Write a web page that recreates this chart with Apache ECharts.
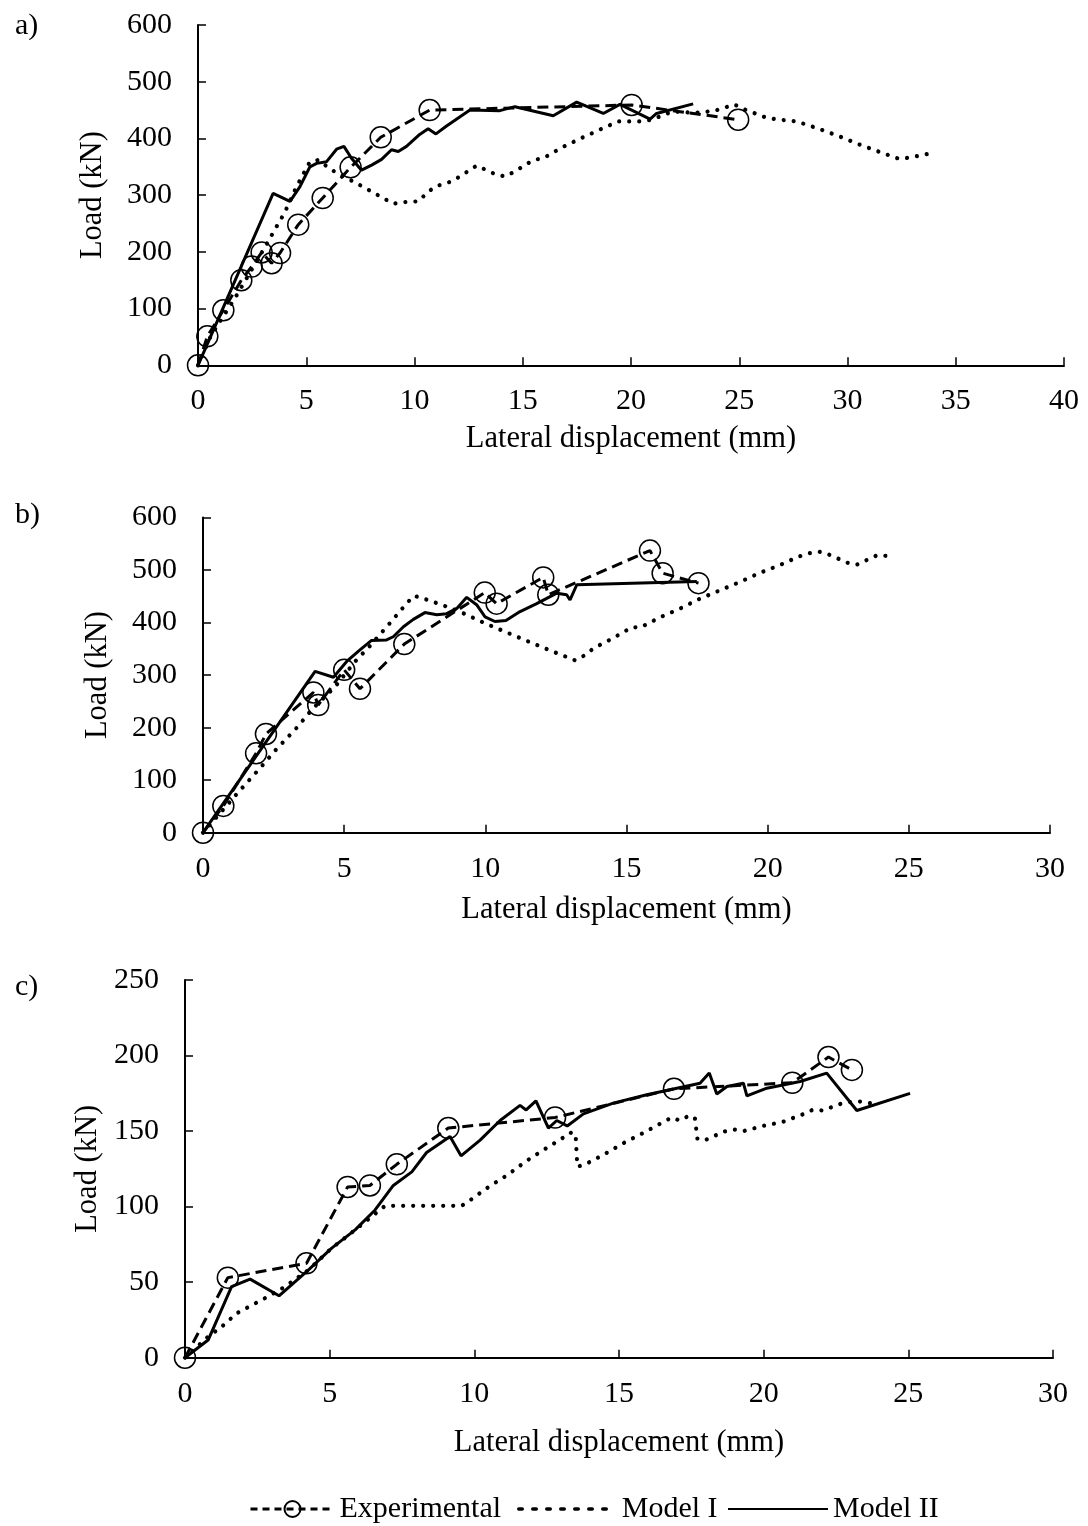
<!DOCTYPE html>
<html>
<head>
<meta charset="utf-8">
<script src="https://cdn.jsdelivr.net/npm/echarts@6/dist/echarts.min.js"></script>
<style>
html,body{margin:0;padding:0;background:#fff;}
#chart{width:1088px;height:1526px;}
</style>
</head>
<body>
<div id="chart"></div>
<script>
// ---------- DATA ----------
const panelLabels = ['a)', 'b)', 'c)'];
const seriesNames = ['Experimental', 'Model I', 'Model II'];
const xAxisTitle = 'Lateral displacement (mm)';
const yAxisTitle = 'Load (kN)';
const xMaxes = [40, 30, 30];
const yMaxes = [600, 600, 250];
const yIntervals = [100, 100, 50];

// Panel a
const aExperimental = [[0,0],[0.43,51],[1.17,97],[2.0,150],[2.48,174],[2.94,199],[3.40,180],[3.79,198],[4.63,248],[5.76,295],[7.05,349],[8.44,402],[10.7,450],[20.03,459],[24.95,433]];
const aModelI = [[0,0],[0.55,48],[0.86,68],[1.7,118],[3.24,218],[3.5,236],[4.0,269],[4.55,315],[5.17,359],[5.56,362],[5.94,351],[6.4,339],[7.33,321],[8.17,303],[9.02,285],[9.6,288],[10.17,289],[10.55,303],[10.94,315],[11.7,324],[12.1,333],[12.87,352],[13.33,344],[13.79,336],[14.2,333],[14.64,342],[15.49,362],[15.95,365],[16.8,384],[17.67,400],[18.53,415],[19.4,430],[20.45,430],[20.95,433],[21.87,447],[22.3,447],[22.84,445],[23.8,448],[24.3,454],[24.77,460],[25.26,451],[26.15,438],[26.65,434],[27.65,430],[28.6,418],[29.54,405],[30.5,390],[31.42,377],[32.38,364],[32.85,366],[33.86,374]];
const aModelII = [[0,0],[3.47,303],[4.25,289],[4.71,315],[5.17,350],[5.48,356],[5.94,359],[6.4,381],[6.74,386],[7.09,365],[7.55,344],[8.02,353],[8.48,363],[8.94,380],[9.25,377],[9.63,386],[10.24,407],[10.63,417],[10.99,408],[11.48,422],[12.56,450],[13.94,449],[14.64,456],[16.41,440],[17.49,464],[18.72,444],[19.49,460],[20.88,434],[21.18,444],[22.87,461]];

// Panel b
const bExperimental = [[0,0],[0.72,51],[1.88,151],[2.23,188],[3.91,267],[4.08,243],[5.0,310],[5.56,274],[7.13,359],[9.98,457],[10.4,436],[12.05,486],[12.23,453],[15.83,537],[16.28,494],[17.55,475]];
const bModelI = [[0,0],[1.25,77],[2.02,123],[2.55,156],[3.34,201],[3.85,234],[4.68,278],[5.39,326],[5.92,356],[6.62,399],[7.22,437],[7.47,451],[7.8,446],[8.55,432],[9.25,417],[9.97,399],[11.03,375],[12.11,351],[13.18,328],[13.53,338],[13.83,351],[14.51,370],[15.19,391],[15.5,391],[16.19,410],[16.87,426],[17.58,445],[18.29,461],[19.0,477],[19.7,494],[20.41,509],[21.12,526],[21.48,532],[21.83,535],[22.19,529],[22.82,514],[23.15,510],[23.51,519],[23.87,528],[24.22,527]];
const bModelII = [[0,0],[3.97,307],[4.62,296],[5.09,326],[5.56,348],[5.97,366],[6.5,367],[6.74,373],[7.1,392],[7.45,406],[7.86,419],[8.28,415],[8.63,417],[8.99,427],[9.34,448],[9.69,434],[9.99,411],[10.34,402],[10.73,404],[11.23,421],[11.82,436],[12.53,456],[12.88,453],[13.0,443],[13.24,472],[17.49,478]];

// Panel c
const cExperimental = [[0,0],[1.48,53],[4.2,62.5],[5.62,113],[6.39,114],[7.32,128],[9.1,152],[12.79,159],[16.9,178],[20.99,182],[22.24,199],[23.05,190.5]];
const cModelI = [[0,0],[0.8,14],[1.21,19.5],[1.79,29.4],[2.82,40],[3.46,47],[4.26,58],[5.07,72.5],[5.88,84.6],[6.91,100.5],[9.56,100.5],[9.91,105],[10.49,113],[11.15,121],[11.78,130],[12.39,137.5],[13.02,145],[13.31,149],[13.5,148],[13.56,126.5],[13.8,127.7],[14.5,134.7],[15.15,142],[15.82,148.6],[16.49,155.6],[16.82,159],[17.1,157],[17.4,160],[17.62,159],[17.71,145],[17.94,143.7],[18.63,149.7],[18.98,151],[19.3,150],[19.97,153.4],[20.65,156],[21.34,161],[21.68,164],[22.03,163.6],[22.72,168.4],[23.07,169.5],[23.39,169.5],[23.7,168.4]];
const cModelII = [[0,0],[0.8,11.7],[1.61,47],[2.25,52],[3.25,41],[4.26,58],[5.07,72.5],[5.88,84.6],[6.57,97.8],[7.2,114],[7.84,123],[8.35,135.8],[9.16,146.4],[9.54,133.6],[10.2,144],[10.89,157],[11.58,167],[11.79,164],[12.13,170],[12.56,152],[12.85,157],[13.21,153.4],[13.77,161.4],[14.8,168.5],[15.96,174],[17.0,178.4],[17.8,181.7],[18.12,188.4],[18.38,174.6],[18.73,179.5],[19.3,181.7],[19.42,173.3],[20.11,178.4],[21.26,182.8],[22.18,188.4],[23.22,163.6],[25.06,175]];

const panelData = [
  [aExperimental, aModelI, aModelII],
  [bExperimental, bModelI, bModelII],
  [cExperimental, cModelI, cModelII]
];

// ---------- LAYOUT / STYLE ----------
const FONT = 'Liberation Serif';
const grids = [
  {left: 198, top: 25, width: 866, height: 340.3},
  {left: 203, top: 517.5, width: 847, height: 315.2},
  {left: 185, top: 980, width: 868, height: 377.7}
];
const xNameGaps = [58, 62, 70];
const yNameGaps = [90, 90, 82];
const labelTops = [6, 495, 967];

const chart = echarts.init(document.getElementById('chart'), null, {renderer: 'canvas'});

const xAxes = [], yAxes = [], series = [], titles = [];
for (let i = 0; i < 3; i++) {
  xAxes.push({
    gridIndex: i, type: 'value', min: 0, max: xMaxes[i], interval: 5,
    axisLine: {show: true, onZero: false, lineStyle: {color: '#000', width: 2}},
    axisTick: {show: true, inside: true, length: 8, lineStyle: {color: '#000', width: 1.5}},
    axisLabel: {color: '#000', fontFamily: FONT, fontSize: 30, margin: 21},
    splitLine: {show: false},
    name: xAxisTitle, nameLocation: 'middle', nameGap: xNameGaps[i],
    nameTextStyle: {color: '#000', fontFamily: FONT, fontSize: 30.5}
  });
  yAxes.push({
    gridIndex: i, type: 'value', min: 0, max: yMaxes[i], interval: yIntervals[i],
    axisLine: {show: true, onZero: false, lineStyle: {color: '#000', width: 2}},
    axisTick: {show: true, inside: true, length: 8, lineStyle: {color: '#000', width: 1.5}},
    axisLabel: {color: '#000', fontFamily: FONT, fontSize: 30, margin: 26},
    splitLine: {show: false},
    name: yAxisTitle, nameLocation: 'middle', nameGap: yNameGaps[i],
    nameTextStyle: {color: '#000', fontFamily: FONT, fontSize: 30.5}
  });
  titles.push({
    text: panelLabels[i], left: 10, top: labelTops[i],
    textStyle: {color: '#000', fontFamily: FONT, fontSize: 30, fontWeight: 'normal'}
  });
  const d = panelData[i];
  series.push({
    name: seriesNames[0], type: 'line', xAxisIndex: i, yAxisIndex: i, data: d[0],
    symbol: 'circle', symbolSize: 21, showSymbol: true, clip: false, z: 3,
    itemStyle: {color: 'rgba(255,255,255,0)', borderColor: '#000', borderWidth: 1.5},
    lineStyle: {color: '#000', width: 3, type: [11, 6]},
    emphasis: {disabled: true}
  });
  series.push({
    name: seriesNames[1], type: 'line', xAxisIndex: i, yAxisIndex: i, data: d[1],
    symbol: 'none', clip: false, z: 2,
    itemStyle: {color: '#000'},
    lineStyle: {color: '#000', width: 4.2, type: [0.01, 10], cap: 'round'},
    emphasis: {disabled: true}
  });
  series.push({
    name: seriesNames[2], type: 'line', xAxisIndex: i, yAxisIndex: i, data: d[2],
    symbol: 'none', clip: false, z: 2,
    itemStyle: {color: '#000'},
    lineStyle: {color: '#000', width: 3},
    emphasis: {disabled: true}
  });
}

const legendText = {color: '#000', fontFamily: FONT, fontSize: 30};
const hiddenSymbol = {color: 'rgba(0,0,0,0)', borderColor: 'rgba(0,0,0,0)', borderWidth: 0, opacity: 0};
const option = {
  animation: false,
  backgroundColor: '#fff',
  title: titles,
  grid: grids,
  xAxis: xAxes,
  yAxis: yAxes,
  legend: [
    {data: [seriesNames[0]], left: 244, top: 1489, itemWidth: 84, itemHeight: 20, textStyle: legendText, selectedMode: false,
     lineStyle: {type: [7, 5], width: 3}},
    {data: [seriesNames[1]], left: 512, top: 1489, itemWidth: 98, itemHeight: 20, textStyle: legendText, selectedMode: false,
     lineStyle: {type: [3.5, 10.5], width: 3.5}, itemStyle: hiddenSymbol},
    {data: [seriesNames[2]], left: 722, top: 1489, itemWidth: 100, itemHeight: 20, textStyle: legendText, selectedMode: false,
     itemStyle: hiddenSymbol}
  ],
  series: series
};
chart.setOption(option);
</script>
</body>
</html>
